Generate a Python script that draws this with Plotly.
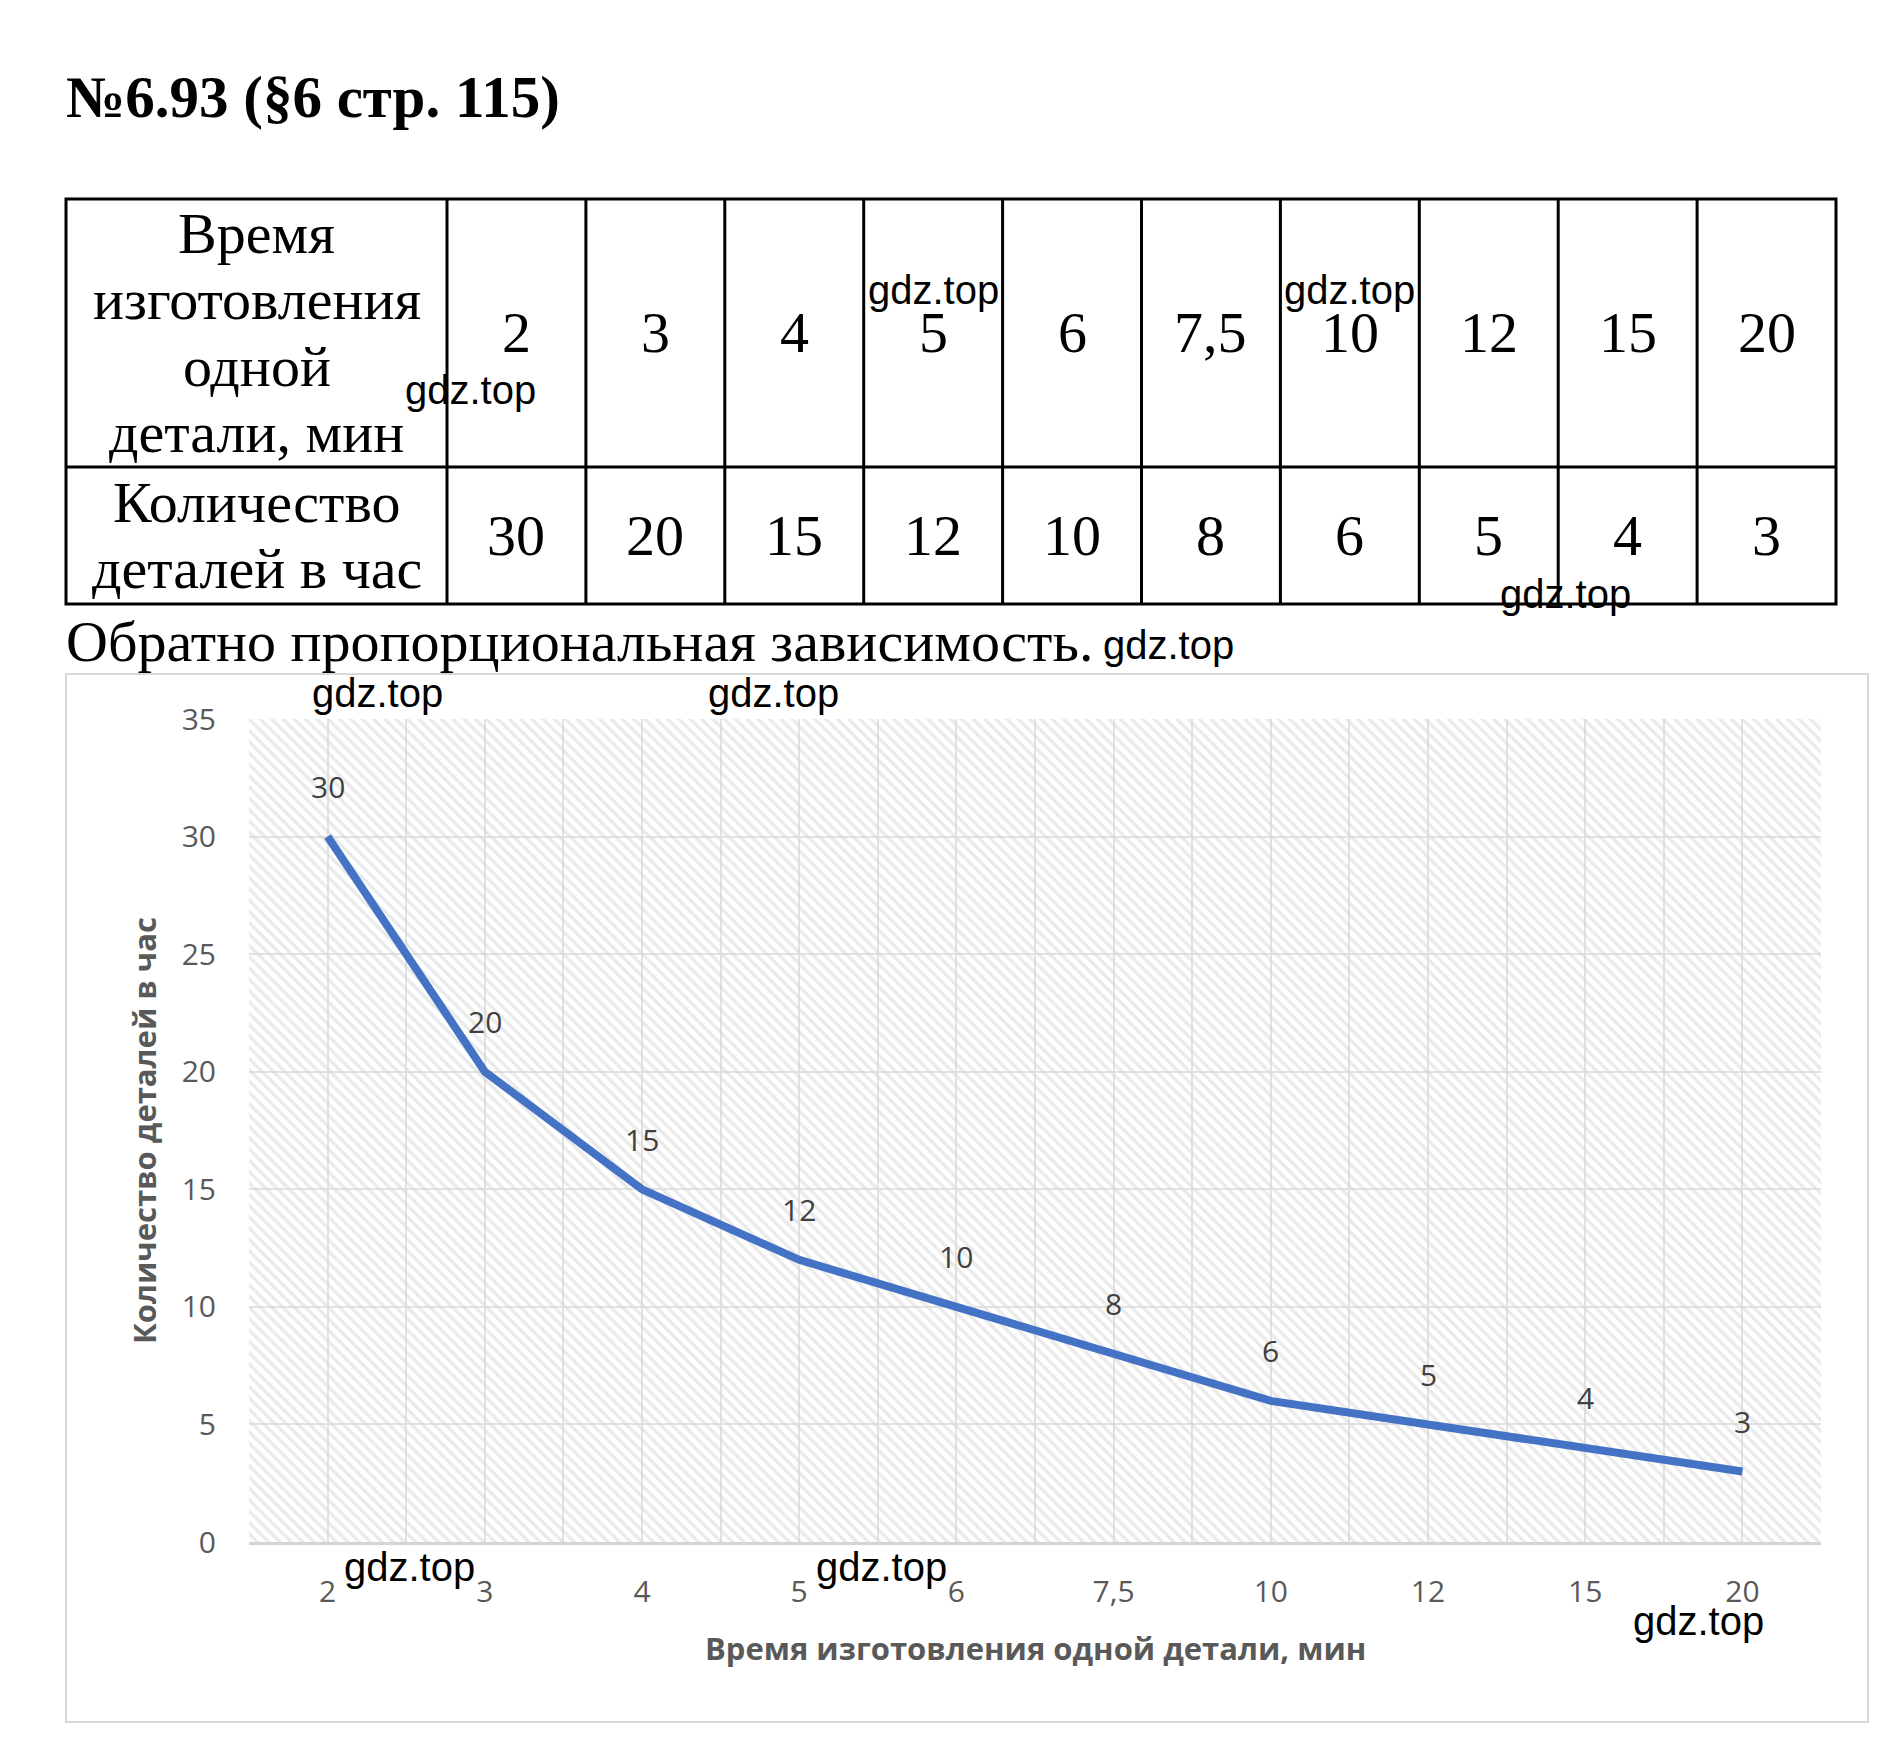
import plotly.graph_objects as go

# ---------------- data ----------------
title_text = "№6.93 (§6 стр. 115)"
row1_header = ["Время", "изготовления", "одной", "детали, мин"]
row2_header = ["Количество", "деталей в час"]
time_labels = ["2", "3", "4", "5", "6", "7,5", "10", "12", "15", "20"]
parts_per_hour = [30, 20, 15, 12, 10, 8, 6, 5, 4, 3]
subtitle = "Обратно пропорциональная зависимость."
x_title = "Время изготовления одной детали, мин"
y_title = "Количество деталей в час"
y_ticks = [0, 5, 10, 15, 20, 25, 30, 35]
watermark = "gdz.top"

# ---------------- layout constants (pixels) ----------------
W, H = 1888, 1746
PL, PR, PT, PB = 249, 1821, 719, 1542  # plot area
PW, PH = PR - PL, PB - PT


def fx(px):
    return (px - PL) / PW


def fy(py):
    return (PB - py) / PH


serif = "Liberation Serif, Times New Roman, serif"
sans = "Open Sans, Noto Sans, sans-serif"
wm_font = "Liberation Sans, Arial, sans-serif"

n = len(time_labels)
x_idx = list(range(n))
x_range = [-0.5, n - 0.5]
y_range = [y_ticks[0], y_ticks[-1]]

fig = go.Figure()

# hatched plot background
fig.add_trace(go.Scatter(
    x=[x_range[0], x_range[1], x_range[1], x_range[0], x_range[0]],
    y=[y_range[0], y_range[0], y_range[1], y_range[1], y_range[0]],
    mode="lines", fill="toself", fillcolor="rgba(0,0,0,0)",
    fillpattern=dict(shape="\\", fgcolor="#d5d5d5", bgcolor="rgba(0,0,0,0)",
                     size=8, solidity=0.42),
    line=dict(width=0), hoverinfo="skip", showlegend=False,
))

# data line
fig.add_trace(go.Scatter(
    x=x_idx, y=parts_per_hour, mode="lines",
    line=dict(color="#4472C4", width=8),
    showlegend=False,
))

annotations = []
shapes = []

# data labels
for i, v in zip(x_idx, parts_per_hour):
    annotations.append(dict(
        x=i, y=v, xref="x", yref="y", text=str(v), showarrow=False,
        yshift=50, font=dict(family=sans, size=30, color="#404040"),
    ))

# axis titles
annotations.append(dict(
    x=fx(1035), y=fy(1648), xref="paper", yref="paper", text="<b>" + x_title + "</b>",
    showarrow=False, xanchor="center", yanchor="middle",
    font=dict(family=sans, size=31, color="#595959"),
))
annotations.append(dict(
    x=fx(144), y=fy(1131), xref="paper", yref="paper", text="<b>" + y_title + "</b>",
    showarrow=False, textangle=-90, xanchor="center", yanchor="middle",
    font=dict(family=sans, size=31, color="#595959"),
))

# title & subtitle
annotations.append(dict(
    x=fx(64), y=fy(97), xref="paper", yref="paper", text="<b>" + title_text + "</b>",
    showarrow=False, xanchor="left", yanchor="middle",
    font=dict(family=serif, size=59, color="black"),
))
annotations.append(dict(
    x=fx(64), y=fy(641), xref="paper", yref="paper", text=subtitle,
    showarrow=False, xanchor="left", yanchor="middle",
    font=dict(family=serif, size=58, color="black"),
))

# ---------------- table ----------------
T_LEFT, T_RIGHT, T_TOP, T_MID, T_BOT = 66, 1836, 199, 467, 604
FIRST_W = 381
col_w = (T_RIGHT - T_LEFT - FIRST_W) / n
bounds = [T_LEFT, T_LEFT + FIRST_W] + [T_LEFT + FIRST_W + col_w * (k + 1) for k in range(n)]

tbl_line = dict(color="black", width=3)
shapes.append(dict(type="rect", xref="paper", yref="paper",
                   x0=fx(T_LEFT), x1=fx(T_RIGHT), y0=fy(T_TOP), y1=fy(T_BOT), line=tbl_line))
shapes.append(dict(type="line", xref="paper", yref="paper",
                   x0=fx(T_LEFT), x1=fx(T_RIGHT), y0=fy(T_MID), y1=fy(T_MID), line=tbl_line))
for b in bounds[1:-1]:
    shapes.append(dict(type="line", xref="paper", yref="paper",
                       x0=fx(b), x1=fx(b), y0=fy(T_TOP), y1=fy(T_BOT), line=tbl_line))

LINE_GAP = 66.5
TFS = 58


def cell_lines(lines, cx, cy):
    m = len(lines)
    for k, s in enumerate(lines):
        yc = cy + (k - (m - 1) / 2) * LINE_GAP
        annotations.append(dict(
            x=fx(cx), y=fy(yc), xref="paper", yref="paper", text=s, showarrow=False,
            xanchor="center", yanchor="middle",
            font=dict(family=serif, size=TFS, color="black"),
        ))


r1c = (T_TOP + T_MID) / 2
r2c = (T_MID + T_BOT) / 2
cell_lines(row1_header, (bounds[0] + bounds[1]) / 2, r1c)
cell_lines(row2_header, (bounds[0] + bounds[1]) / 2, r2c)
for k in range(n):
    cx = (bounds[k + 1] + bounds[k + 2]) / 2
    cell_lines([time_labels[k]], cx, r1c)
    cell_lines([str(parts_per_hour[k])], cx, r2c)

# chart outer border
shapes.append(dict(type="rect", xref="paper", yref="paper",
                   x0=fx(66), x1=fx(1868), y0=fy(674), y1=fy(1722),
                   line=dict(color="#d9d9d9", width=2), layer="below"))

# watermarks
wm_pos = [(470, 390), (933, 290), (1349, 290), (1565, 594), (1168, 645),
          (377, 693), (773, 693), (409, 1567), (881, 1567), (1698, 1621)]
for (wx, wy) in wm_pos:
    annotations.append(dict(
        x=fx(wx), y=fy(wy), xref="paper", yref="paper", text=watermark, showarrow=False,
        xanchor="center", yanchor="middle",
        font=dict(family=wm_font, size=40, color="black"),
    ))

# ---------------- axes ----------------
x_tickvals = [x_range[0] + 0.5 * k for k in range(2 * n + 1)]
x_ticktext = [time_labels[int(v)] if float(v).is_integer() else "" for v in x_tickvals]

fig.update_layout(
    width=W, height=H,
    margin=dict(l=PL, r=W - PR, t=PT, b=H - PB, pad=0),
    paper_bgcolor="white", plot_bgcolor="white",
    showlegend=False,
    annotations=annotations, shapes=shapes,
    xaxis=dict(
        range=x_range, tickmode="array", tickvals=x_tickvals, ticktext=x_ticktext,
        showgrid=True, gridcolor="#e2e2e2", gridwidth=2, zeroline=False,
        showline=True, linecolor="#d4d4d4", linewidth=3,
        ticks="", ticklabelstandoff=21,
        tickfont=dict(family=sans, size=30, color="#595959"),
        fixedrange=True,
    ),
    yaxis=dict(
        range=y_range, tickmode="array", tickvals=y_ticks,
        showgrid=True, gridcolor="#e2e2e2", gridwidth=2, zeroline=False,
        showline=False, ticks="", ticklabelstandoff=32,
        tickfont=dict(family=sans, size=30, color="#595959"),
        fixedrange=True,
    ),
)

fig.write_html("out.html")
